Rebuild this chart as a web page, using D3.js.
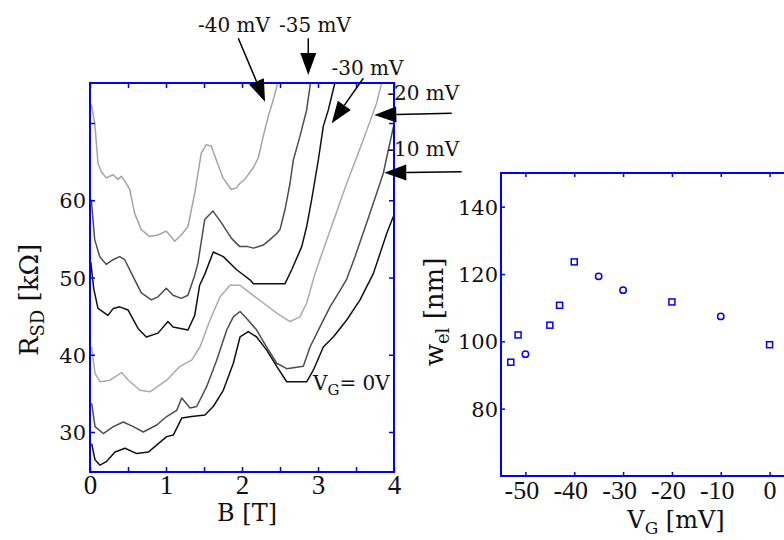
<!DOCTYPE html>
<html>
<head>
<meta charset="utf-8">
<script src="https://cdn.jsdelivr.net/npm/d3@7"></script>
<style>
  html, body { margin: 0; padding: 0; background: #fff; }
  svg { display: block; }
</style>
</head>
<body>
<svg id="chart" width="784" height="540"></svg>
<script>
// ---- Left panel: R_SD(B) traces, one per gate voltage [B in T, R in kOhm] ----
const traceVm40 = [[0.017,72.4],[0.062,70.0],[0.105,64.8],[0.149,63.7],[0.214,62.9],[0.303,63.3],[0.368,62.7],[0.412,63.1],[0.457,62.5],[0.522,61.4],[0.588,58.3],[0.675,56.2],[0.786,55.3],[0.895,55.5],[1.004,56.0],[1.049,55.5],[1.114,54.7],[1.201,55.5],[1.289,56.6],[1.378,60.9],[1.464,66.1],[1.530,67.2],[1.596,67.0],[1.662,65.2],[1.750,62.9],[1.859,61.4],[1.925,61.6],[1.974,62.2],[2.036,62.7],[2.149,64.2],[2.214,65.5],[2.280,68.3],[2.346,70.9],[2.412,73.0],[2.478,75.5]];
const traceVm35 = [[0.017,60.1],[0.062,54.9],[0.128,52.7],[0.214,51.7],[0.303,52.3],[0.391,52.7],[0.457,52.3],[0.543,50.6],[0.675,48.0],[0.807,47.1],[0.895,47.5],[1.004,48.6],[1.092,47.7],[1.201,47.3],[1.289,47.7],[1.378,50.3],[1.421,51.9],[1.509,57.5],[1.618,58.6],[1.728,57.1],[1.859,55.1],[1.970,54.0],[2.079,54.0],[2.149,53.8],[2.280,54.2],[2.368,54.9],[2.457,55.7],[2.500,56.2],[2.566,58.8],[2.632,62.2],[2.675,65.2],[2.763,68.3],[2.851,71.7],[2.905,75.5]];
const traceVm30 = [[0.010,52.0],[0.050,48.5],[0.105,46.0],[0.237,45.1],[0.307,46.0],[0.391,46.2],[0.500,45.8],[0.632,43.4],[0.741,42.3],[0.895,42.8],[1.026,44.3],[1.092,43.6],[1.289,43.2],[1.378,45.1],[1.443,49.0],[1.513,50.5],[1.622,53.3],[1.754,52.7],[1.930,51.0],[2.105,49.7],[2.149,49.2],[2.566,49.2],[2.654,51.0],[2.786,54.0],[2.851,56.6],[2.917,60.1],[3.004,65.2],[3.070,69.6],[3.136,71.7],[3.180,73.5],[3.230,75.5]];
const traceVm20 = [[0.022,41.0],[0.066,37.6],[0.132,36.5],[0.263,36.7],[0.417,37.7],[0.504,36.7],[0.658,35.4],[0.789,35.2],[1.009,36.7],[1.184,38.5],[1.338,39.3],[1.447,41.0],[1.579,44.5],[1.711,47.5],[1.842,49.0],[1.974,49.0],[2.105,48.0],[2.280,46.7],[2.457,45.4],[2.632,44.3],[2.763,44.9],[2.851,46.7],[2.961,50.5],[3.070,53.6],[3.224,57.9],[3.378,62.2],[3.530,66.1],[3.662,69.6],[3.772,72.6],[3.845,75.5]];
const traceVm10 = [[0.022,33.7],[0.066,30.7],[0.175,29.8],[0.307,30.7],[0.438,31.3],[0.570,30.7],[0.701,30.0],[0.878,30.9],[1.009,32.0],[1.141,32.8],[1.207,34.4],[1.316,33.1],[1.404,33.3],[1.536,35.9],[1.667,39.3],[1.799,43.2],[1.886,44.9],[1.974,45.6],[2.062,44.7],[2.193,43.2],[2.325,41.0],[2.457,38.9],[2.588,38.2],[2.807,38.5],[2.895,41.0],[3.026,43.6],[3.158,46.2],[3.289,48.3],[3.378,49.8],[3.487,52.7],[3.641,57.1],[3.772,60.9],[3.859,63.5],[3.925,66.5],[3.995,69.6]];
const traceV0 = [[0.022,28.5],[0.066,26.4],[0.132,25.7],[0.220,26.2],[0.329,27.4],[0.461,27.9],[0.614,27.2],[0.767,27.4],[0.899,28.5],[1.009,29.4],[1.096,29.6],[1.207,31.8],[1.338,32.0],[1.513,32.2],[1.622,33.3],[1.754,35.4],[1.886,38.9],[1.974,42.3],[2.083,43.0],[2.193,42.3],[2.325,40.6],[2.457,38.5],[2.588,36.5],[2.851,36.5],[2.938,38.0],[3.070,41.0],[3.201,42.3],[3.378,44.5],[3.553,47.1],[3.728,50.5],[3.904,55.7],[3.991,57.9]];
const traceLabels = ["-40 mV", "-35 mV", "-30 mV", "-20 mV", "-10 mV"];

const bTicks = [0, 0.5, 1, 1.5, 2, 2.5, 3, 3.5, 4];
const bTickLabels = [0, 1, 2, 3, 4];
const rTicks = [30, 40, 50, 60, 70];
const rTickLabels = [30, 40, 50, 60];

// ---- Right panel: electronic width w_el vs gate voltage ----
const vgSquares = [-53, -51.5, -45, -43, -40, -20, 0];
const wSquares  = [93.8, 101.9, 104.8, 110.7, 123.6, 111.7, 99.0];
const vgCircles = [-50, -35, -30, -10];
const wCircles  = [96.2, 119.3, 115.2, 107.4];

const vgTicks = [-50, -40, -30, -20, -10, 0];
const wTicks = [80, 100, 120, 140];

// ---- Drawing ----
const svg = d3.select("#chart");
const BLUE = "#0000ff";
const SERIF = "'DejaVu Serif', serif";
const NARROW = "'Liberation Serif', serif";
const fmt = v => (v < 0 ? "-" + Math.abs(v) : String(v));

// Left panel geometry and scales
const PL = { left: 90, right: 394, top: 83, bottom: 472 };
const xB = d3.scaleLinear().domain([0, 4]).range([PL.left, PL.right]);
const yR = d3.scaleLinear().domain([24.82, 75.18]).range([PL.bottom, PL.top]);

// Right panel geometry and scales (right edge runs past the view)
const PR = { left: 501, right: 794, top: 173, bottom: 476 };
const xV = d3.scaleLinear().domain([-55, 5]).range([PR.left, PR.right]);
const yW = d3.scaleLinear().domain([60, 150]).range([PR.bottom, PR.top]);

svg.append("defs").append("clipPath").attr("id", "clipLeft")
  .append("rect")
  .attr("x", PL.left).attr("y", PL.top)
  .attr("width", PL.right - PL.left).attr("height", PL.bottom - PL.top);

// traces
const traces = [
  { data: traceVm40, color: "#a4a4a4" },
  { data: traceVm35, color: "#4d4d4d" },
  { data: traceVm30, color: "#111111" },
  { data: traceVm20, color: "#ababab" },
  { data: traceVm10, color: "#4d4d4d" },
  { data: traceV0,   color: "#111111" }
];
const line = d3.line().x(d => xB(d[0])).y(d => yR(d[1]));
svg.append("g").attr("clip-path", "url(#clipLeft)")
  .selectAll("path").data(traces).join("path")
  .attr("d", d => line(d.data))
  .attr("fill", "none")
  .attr("stroke", d => d.color)
  .attr("stroke-width", 1.5)
  .attr("stroke-linejoin", "round");

// inward tick marks only
function ticksOnly(axis, tx, ty) {
  const g = svg.append("g").attr("transform", `translate(${tx},${ty})`).call(axis);
  g.select(".domain").remove();
  g.selectAll("text").remove();
  g.selectAll("line").attr("stroke", BLUE).attr("stroke-width", 1.5);
  return g;
}
// tick labels only
function labelsOnly(axis, tx, ty, font, size) {
  const g = svg.append("g").attr("transform", `translate(${tx},${ty})`).call(axis);
  g.select(".domain").remove();
  g.selectAll("line").remove();
  g.selectAll("text").attr("fill", "#111").style("font-family", font).style("font-size", size + "px");
  return g;
}

// left panel axes
ticksOnly(d3.axisBottom(xB).tickValues(bTicks).tickSize(-5), 0, PL.bottom);
ticksOnly(d3.axisTop(xB).tickValues(bTicks).tickSize(-5), 0, PL.top);
ticksOnly(d3.axisLeft(yR).tickValues(rTicks).tickSize(-5), PL.left, 0);
ticksOnly(d3.axisRight(yR).tickValues(rTicks).tickSize(-5), PL.right, 0);

labelsOnly(d3.axisBottom(xB).tickValues(bTickLabels).tickSize(0).tickFormat(fmt), 0, PL.bottom, NARROW, 27)
  .selectAll("text").attr("dy", null).attr("y", 22);
labelsOnly(d3.axisLeft(yR).tickValues(rTickLabels).tickSize(0).tickPadding(4).tickFormat(fmt), PL.left, 0, SERIF, 21)
  .selectAll("text").attr("dy", "0.36em");

svg.append("rect")
  .attr("x", PL.left).attr("y", PL.top)
  .attr("width", PL.right - PL.left).attr("height", PL.bottom - PL.top)
  .attr("fill", "none").attr("stroke", BLUE).attr("stroke-width", 2);

// right panel axes
ticksOnly(d3.axisBottom(xV).tickValues(vgTicks).tickSize(-4), 0, PR.bottom);
ticksOnly(d3.axisTop(xV).tickValues(vgTicks).tickSize(-4), 0, PR.top);
ticksOnly(d3.axisLeft(yW).tickValues(wTicks).tickSize(-4), PR.left, 0);

labelsOnly(d3.axisBottom(xV).tickValues(vgTicks).tickSize(0).tickFormat(fmt), 0, PR.bottom, NARROW, 26)
  .selectAll("text").attr("dy", null).attr("y", 23)
  .attr("dx", d => (d < 0 ? -4 : 0));
labelsOnly(d3.axisLeft(yW).tickValues(wTicks).tickSize(0).tickPadding(3).tickFormat(fmt), PR.left, 0, SERIF, 21)
  .selectAll("text").attr("dy", "0.36em");

svg.append("rect")
  .attr("x", PR.left).attr("y", PR.top)
  .attr("width", PR.right - PR.left).attr("height", PR.bottom - PR.top)
  .attr("fill", "none").attr("stroke", BLUE).attr("stroke-width", 2);

// right panel markers
const sq = 6;
svg.append("g").selectAll("rect")
  .data(vgSquares.map((v, i) => [v, wSquares[i]])).join("rect")
  .attr("x", d => xV(d[0]) - sq / 2).attr("y", d => yW(d[1]) - sq / 2)
  .attr("width", sq).attr("height", sq)
  .attr("fill", "none").attr("stroke", BLUE).attr("stroke-width", 1.5);
svg.append("g").selectAll("circle")
  .data(vgCircles.map((v, i) => [v, wCircles[i]])).join("circle")
  .attr("cx", d => xV(d[0])).attr("cy", d => yW(d[1])).attr("r", 3.2)
  .attr("fill", "none").attr("stroke", BLUE).attr("stroke-width", 1.5);

// axis titles
function subText(g, parts) {
  parts.forEach(p => {
    const t = g.append("tspan").text(p.t);
    if (p.size) t.style("font-size", p.size + "px");
    if (p.dy) t.attr("dy", p.dy);
  });
}
const bTitle = svg.append("text").attr("x", 247).attr("y", 521)
  .attr("text-anchor", "middle").attr("fill", "#111")
  .style("font-family", SERIF).style("font-size", "24px");
subText(bTitle, [{ t: "B [T]" }]);

const rTitle = svg.append("text").attr("transform", "translate(38,300) rotate(-90)")
  .attr("text-anchor", "middle").attr("fill", "#111")
  .style("font-family", SERIF).style("font-size", "26px");
subText(rTitle, [{ t: "R" }, { t: "SD", size: 18, dy: 6 }, { t: " [kΩ]", size: 26, dy: -6 }]);

const vTitle = svg.append("text").attr("x", 676).attr("y", 528)
  .attr("text-anchor", "middle").attr("fill", "#111")
  .style("font-family", SERIF).style("font-size", "24px");
subText(vTitle, [{ t: "V" }, { t: "G", size: 17, dy: 6 }, { t: " [mV]", size: 24, dy: -6 }]);

const wTitle = svg.append("text").attr("transform", "translate(443,312) rotate(-90)")
  .attr("text-anchor", "middle").attr("fill", "#111")
  .style("font-family", SERIF).style("font-size", "26px");
subText(wTitle, [{ t: "w" }, { t: "el", size: 18, dy: 6 }, { t: " [nm]", size: 26, dy: -6 }]);

// zero-gate label inside left panel
const v0Label = svg.append("text").attr("x", xB(2.934)).attr("y", yR(35.44))
  .attr("fill", "#111").style("font-family", SERIF).style("font-size", "20px");
subText(v0Label, [{ t: "V" }, { t: "G", size: 15, dy: 5 }, { t: "= 0V", size: 20, dy: -5 }]);

// gate-voltage annotations with arrows (positions in B/R units of the left panel)
const annotations = [
  { label: traceLabels[0], text: [1.895, 81.82], anchor: "middle", tail: [1.951, 80.97], tip: [2.303, 72.76] },
  { label: traceLabels[1], text: [2.961, 81.82], anchor: "middle", tail: [2.872, 80.97], tip: [2.872, 76.21] },
  { label: traceLabels[2], text: [3.651, 76.21], anchor: "middle", tail: [3.596, 75.79], tip: [3.180, 69.96] },
  { label: traceLabels[3], text: [3.910, 72.98], anchor: "start",  tail: [4.759, 71.26], tip: [3.741, 71.04] },
  { label: traceLabels[4], text: [3.910, 65.73], anchor: "start",  tail: [4.891, 63.70], tip: [3.872, 63.57] }
];
const ag = svg.append("g");
annotations.forEach(a => {
  const x0 = xB(a.tail[0]), y0 = yR(a.tail[1]);
  const x1 = xB(a.tip[0]), y1 = yR(a.tip[1]);
  const len = Math.hypot(x1 - x0, y1 - y0);
  const ux = (x1 - x0) / len, uy = (y1 - y0) / len;
  const hl = 22, hw = 8;
  const bx = x1 - ux * hl, by = y1 - uy * hl;
  ag.append("line").attr("x1", x0).attr("y1", y0).attr("x2", bx).attr("y2", by)
    .attr("stroke", "#000").attr("stroke-width", 1.5);
  ag.append("path")
    .attr("d", `M${x1},${y1}L${bx - uy * hw},${by + ux * hw}L${bx + uy * hw},${by - ux * hw}Z`)
    .attr("fill", "#000");
  ag.append("text").attr("x", xB(a.text[0])).attr("y", yR(a.text[1]))
    .attr("text-anchor", a.anchor).attr("fill", "#111")
    .style("font-family", SERIF).style("font-size", "20px")
    .text(a.label);
});
</script>
</body>
</html>
